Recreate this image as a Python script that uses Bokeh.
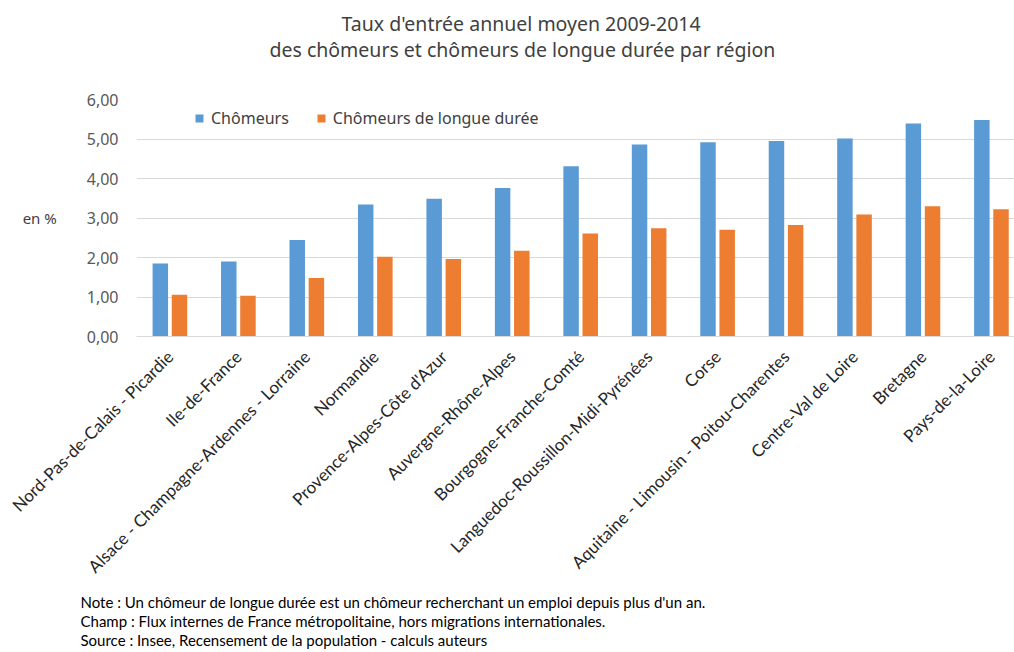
import math
from bokeh.plotting import figure
from bokeh.models import (ColumnDataSource, Range1d, FixedTicker, Legend, LegendItem, Title)
from bokeh.transform import dodge
from bokeh.embed import file_html
from bokeh.resources import INLINE

# ---- data ----
regions = ["Nord-Pas-de-Calais - Picardie", "Ile-de-France",
           "Alsace - Champagne-Ardennes - Lorraine", "Normandie",
           "Provence-Alpes-Côte d'Azur", "Auvergne-Rhône-Alpes",
           "Bourgogne-Franche-Comté", "Languedoc-Roussillon-Midi-Pyrénées",
           "Corse", "Aquitaine - Limousin - Poitou-Charentes",
           "Centre-Val de Loire", "Bretagne", "Pays-de-la-Loire"]
chomeurs = [1.85, 1.90, 2.44, 3.34, 3.49, 3.76, 4.31, 4.86, 4.92, 4.95, 5.01, 5.39, 5.48]
chomeurs_ld = [1.06, 1.03, 1.48, 2.02, 1.96, 2.17, 2.61, 2.74, 2.70, 2.82, 3.09, 3.30, 3.22]
y_ticks = [0, 1, 2, 3, 4, 5, 6]
y_tick_labels = ["0,00", "1,00", "2,00", "3,00", "4,00", "5,00", "6,00"]
series_names = ["Chômeurs", "Chômeurs de longue durée"]
y_unit = "en %"
title_lines = ["Taux d'entrée annuel moyen 2009-2014",
               "des chômeurs et chômeurs de longue durée par région"]
notes = ["Note : Un chômeur de longue durée est un chômeur recherchant un emploi depuis plus d'un an.",
         "Champ : Flux internes de France métropolitaine, hors migrations internationales.",
         "Source : Insee, Recensement  de la population - calculs auteurs"]

BLUE = "#5b9bd5"
ORANGE = "#ed7d31"
GRID = "#d9d9d9"
TEXT = "#404040"

idx = list(range(len(regions)))
src = ColumnDataSource(dict(x=idx, a=chomeurs, b=chomeurs_ld))

p = figure(width=1014, height=652, output_backend="svg", toolbar_location=None,
           x_range=Range1d(-0.488, 12.337), y_range=Range1d(0, 6),
           min_border_left=136, min_border_right=0, min_border_top=99,
           min_border_bottom=314)
p.outline_line_color = None
p.background_fill_color = "white"
p.border_fill_color = "white"

bw = 0.226
r1 = p.vbar(x=dodge("x", -0.14, range=p.x_range), top="a", width=bw, source=src,
            fill_color=BLUE, line_color=None)
r2 = p.vbar(x=dodge("x", 0.14, range=p.x_range), top="b", width=bw, source=src,
            fill_color=ORANGE, line_color=None)

# x axis
p.xaxis.ticker = FixedTicker(ticks=idx)
p.xaxis.major_label_overrides = {i: r for i, r in zip(idx, regions)}
p.xaxis.major_label_orientation = math.pi / 4
p.xaxis.major_label_text_font = "Lato"
p.xaxis.major_label_text_font_size = "17px"
p.xaxis.major_label_text_color = "#262626"
p.xaxis.major_label_standoff = 17
p.xaxis.axis_line_color = GRID
p.xaxis.major_tick_line_color = None
p.xaxis.minor_tick_line_color = None
p.xaxis.major_tick_out = 0
p.xaxis.major_tick_in = 0

# y axis
p.yaxis.ticker = FixedTicker(ticks=y_ticks)
p.yaxis.major_label_overrides = {t: l for t, l in zip(y_ticks, y_tick_labels)}
p.yaxis.major_label_text_font = "Noto Sans"
p.yaxis.major_label_text_font_size = "16px"
p.yaxis.major_label_text_color = "#595959"
p.yaxis.major_label_standoff = 18
p.yaxis.axis_line_color = None
p.yaxis.major_tick_line_color = None
p.yaxis.minor_tick_line_color = None
p.yaxis.major_tick_out = 0
p.yaxis.major_tick_in = 0
p.yaxis.axis_label = y_unit
p.yaxis.axis_label_orientation = "horizontal"
p.yaxis.axis_label_standoff = 27
p.yaxis.axis_label_text_font = "Noto Sans"
p.yaxis.axis_label_text_font_size = "15px"
p.yaxis.axis_label_text_font_style = "normal"
p.yaxis.axis_label_text_color = TEXT

p.xgrid.grid_line_color = None
p.ygrid.grid_line_color = GRID
p.ygrid.grid_line_width = 1

# legend
legend = Legend(items=[LegendItem(label=series_names[0], renderers=[r1]),
                       LegendItem(label=series_names[1], renderers=[r2])],
                location=(58, 207), orientation="horizontal",
                glyph_width=10, glyph_height=10, label_height=18,
                label_standoff=7, spacing=27, padding=0, margin=0,
                border_line_color=None, background_fill_alpha=0,
                label_text_font="Noto Sans", label_text_font_size="16px",
                label_text_color=TEXT)
p.add_layout(legend)

# title: spacer closest to the frame, then line 2, then line 1
title_kw = dict(align="left", text_font="Noto Sans", text_font_size="19.5px",
                text_font_style="normal", text_color=TEXT)
p.add_layout(Title(text=" ", standoff=8, **title_kw), "above")
p.add_layout(Title(text=title_lines[1], offset=133, standoff=-1, **title_kw), "above")
p.add_layout(Title(text=title_lines[0], offset=205, standoff=-4, **title_kw), "above")

# notes below the axis (one multi-line block)
p.add_layout(Title(text="\n".join(notes), align="left", offset=-56, standoff=7,
                   text_font="Lato", text_font_size="15px", text_font_style="normal",
                   text_line_height=1.06, text_color="#000000"), "below")

open("out.html", "w").write(file_html(p, INLINE))
